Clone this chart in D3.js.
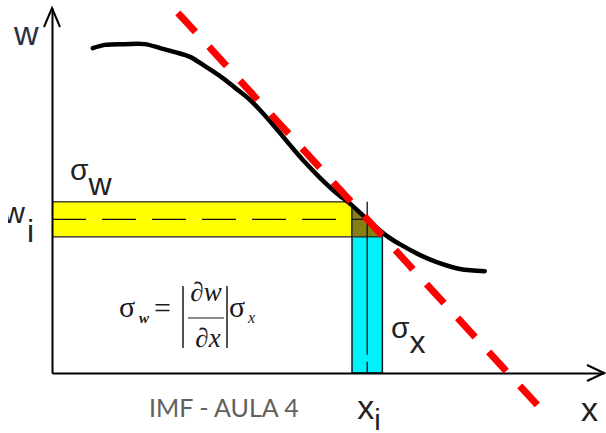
<!DOCTYPE html>
<html>
<head>
<meta charset="utf-8">
<script src="https://cdn.jsdelivr.net/npm/d3@7"></script>
<style>
  html, body { margin: 0; padding: 0; background: #fff; }
  svg { display: block; }
</style>
</head>
<body>
<svg id="chart" width="606" height="433"></svg>
<script>
// Measured response curve w(x)
const curveX = [0.74, 0.96, 1.32, 1.68, 1.96, 2.23, 2.50, 2.77, 3.04, 3.32, 3.59, 3.80, 4.04, 4.31, 4.58, 4.86, 5.13, 5.43, 5.71, 6.07, 6.30, 6.67, 6.97, 7.39, 7.84];
const curveW = [8.90, 8.99, 9.01, 9.01, 8.90, 8.79, 8.66, 8.41, 8.14, 7.81, 7.48, 7.15, 6.74, 6.25, 5.78, 5.34, 4.96, 4.60, 4.21, 3.75, 3.53, 3.23, 3.04, 2.85, 2.79];

// Working point, its uncertainties and the local slope
const xi = 5.71;
const wi = 4.21;
const sigmaX = 0.275;
const sigmaW = 0.48;
const slope = -1.65;
const tangentRange = [2.28, 8.86];

// Axis extents
const xDomain = [0, 10];
const wDomain = [0, 10];

const svg = d3.select("#chart");
const x = d3.scaleLinear().domain(xDomain).range([52, 604]);
const y = d3.scaleLinear().domain(wDomain).range([373, 8]);

const pts = curveX.map((v, i) => ({ x: v, w: curveW[i] }));

const defs = svg.append("defs");
// Clip: everything below the curve (plus the strip left of its start)
const clip = defs.append("clipPath").attr("id", "under");
clip.append("path")
  .attr("d", d3.area().x(d => x(d.x)).y0(y(0)).y1(d => y(d.w)).curve(d3.curveCatmullRom)(pts));
clip.append("rect")
  .attr("x", x(0)).attr("y", 0)
  .attr("width", x(curveX[0]) - x(0) + 1).attr("height", y(0));
// the w_i label runs off the left border
defs.append("clipPath").attr("id", "leftEdge")
  .append("rect").attr("x", 8).attr("y", 0).attr("width", 100).attr("height", 433);

const bands = svg.append("g").attr("clip-path", "url(#under)");
// sigma_w band (yellow)
bands.append("rect")
  .attr("x", x(0)).attr("y", y(wi + sigmaW))
  .attr("width", x(xi + sigmaX) - x(0))
  .attr("height", y(wi - sigmaW) - y(wi + sigmaW))
  .attr("fill", "#ffff00").attr("stroke", "#2a2a2a").attr("stroke-width", 1.3);
// sigma_x band (cyan)
bands.append("rect")
  .attr("x", x(xi - sigmaX)).attr("y", y(wi + sigmaW))
  .attr("width", x(xi + sigmaX) - x(xi - sigmaX))
  .attr("height", y(0) - y(wi + sigmaW))
  .attr("fill", "#00f2fa").attr("stroke", "#1a1a1a").attr("stroke-width", 1.5);
// overlap of both bands
bands.append("rect")
  .attr("x", x(xi - sigmaX)).attr("y", y(wi + sigmaW))
  .attr("width", x(xi + sigmaX) - x(xi - sigmaX))
  .attr("height", y(wi - sigmaW) - y(wi + sigmaW))
  .attr("fill", "#857f16").attr("stroke", "#2a2a2a").attr("stroke-width", 1.3);

// centre lines of the bands
bands.append("line")
  .attr("x1", x(0)).attr("x2", x(xi))
  .attr("y1", y(wi)).attr("y2", y(wi))
  .attr("stroke", "#111").attr("stroke-width", 1.3)
  .attr("stroke-dasharray", "34,16");
svg.append("line")
  .attr("x1", x(xi)).attr("x2", x(xi))
  .attr("y1", y(wi + sigmaW)).attr("y2", y(0))
  .attr("stroke", "#111").attr("stroke-width", 1.3)
  .attr("stroke-dasharray", "153,7");

// axes (no ticks) with open arrow heads
svg.append("g").attr("transform", `translate(0,${y(0)})`)
  .call(d3.axisBottom(x).tickValues([]).tickSizeOuter(0))
  .select(".domain").attr("stroke", "#000").attr("stroke-width", 2);
svg.append("g").attr("transform", `translate(${x(0)},0)`)
  .call(d3.axisLeft(y).tickValues([]).tickSizeOuter(0))
  .select(".domain").attr("stroke", "#000").attr("stroke-width", 2);

const arrow = d3.line();
svg.append("path")
  .attr("d", arrow([[x(0) - 8, y(wDomain[1]) + 19], [x(0), y(wDomain[1])], [x(0) + 8, y(wDomain[1]) + 19]]))
  .attr("fill", "none").attr("stroke", "#000").attr("stroke-width", 2);
svg.append("path")
  .attr("d", arrow([[x(xDomain[1]) - 17, y(0) - 8], [x(xDomain[1]), y(0)], [x(xDomain[1]) - 17, y(0) + 8]]))
  .attr("fill", "none").attr("stroke", "#000").attr("stroke-width", 2);

// the curve
svg.append("path")
  .attr("d", d3.line().x(d => x(d.x)).y(d => y(d.w)).curve(d3.curveCatmullRom)(pts))
  .attr("fill", "none").attr("stroke", "#000").attr("stroke-width", 4.5)
  .attr("stroke-linejoin", "round").attr("stroke-linecap", "round");

// tangent at the working point
const tangent = tangentRange.map(v => [x(v), y(wi + slope * (v - xi))]);
svg.append("path")
  .attr("d", arrow(tangent))
  .attr("fill", "none").attr("stroke", "#ff0000").attr("stroke-width", 7)
  .attr("stroke-dasharray", "26,20");

// labels
const sans = "'Liberation Sans', Arial, sans-serif";
const ink = "#2e2f45";

svg.append("text").attr("x", 14).attr("y", 45)
  .attr("font-family", sans).attr("font-size", 34).attr("fill", ink).text("w");

svg.append("text").attr("x", 25).attr("y", y(wi) + 4)
  .attr("clip-path", "url(#leftEdge)")
  .attr("font-family", sans).attr("font-size", 30).attr("fill", "#222")
  .attr("text-anchor", "end").text("w");
svg.append("text").attr("x", 27).attr("y", y(wi) + 23)
  .attr("font-family", sans).attr("font-size", 32).attr("fill", "#222").text("i");

const sw = svg.append("text").attr("x", 70).attr("y", 180)
  .attr("font-family", sans).attr("fill", "#222");
sw.append("tspan").attr("font-size", 30).text("σ");
sw.append("tspan").attr("font-size", 32).attr("dy", 15).text("w");

const sx = svg.append("text").attr("x", 391).attr("y", 338)
  .attr("font-family", sans).attr("fill", "#222");
sx.append("tspan").attr("font-size", 30).text("σ");
sx.append("tspan").attr("font-size", 32).attr("dy", 15).text("x");

const xiLabel = svg.append("text").attr("x", x(xi) - 10).attr("y", 419)
  .attr("font-family", sans).attr("fill", "#222");
xiLabel.append("tspan").attr("font-size", 34).text("x");
xiLabel.append("tspan").attr("font-size", 29).attr("dy", 11).text("i");

svg.append("text").attr("x", 581).attr("y", 421)
  .attr("font-family", sans).attr("font-size", 34).attr("fill", "#222").text("x");

svg.append("text").attr("x", 149).attr("y", 417)
  .attr("font-family", "Lato, 'Open Sans', sans-serif").attr("font-size", 25)
  .attr("fill", "#606060").text("IMF - AULA 4");

// propagation formula
const serif = "'Liberation Serif', 'Times New Roman', serif";
const f = svg.append("g").attr("font-family", serif).attr("fill", "#1a1a1a");
f.append("text").attr("x", 119).attr("y", 317).attr("font-size", 30).text("σ");
f.append("text").attr("x", 139).attr("y", 323).attr("font-size", 15)
  .attr("font-style", "italic").attr("font-weight", "bold").text("w");
f.append("text").attr("x", 154).attr("y", 318).attr("font-size", 30).text("=");
f.append("line").attr("x1", 183).attr("x2", 183).attr("y1", 286).attr("y2", 348)
  .attr("stroke", "#1a1a1a").attr("stroke-width", 1.5);
f.append("line").attr("x1", 227).attr("x2", 227).attr("y1", 286).attr("y2", 348)
  .attr("stroke", "#1a1a1a").attr("stroke-width", 1.5);
f.append("text").attr("x", 206).attr("y", 301).attr("font-size", 27)
  .attr("text-anchor", "middle").attr("font-style", "italic").text("∂w");
f.append("line").attr("x1", 188).attr("x2", 224).attr("y1", 318).attr("y2", 318)
  .attr("stroke", "#1a1a1a").attr("stroke-width", 1.2);
f.append("text").attr("x", 208).attr("y", 347).attr("font-size", 27)
  .attr("text-anchor", "middle").attr("font-style", "italic").text("∂x");
f.append("text").attr("x", 229).attr("y", 317).attr("font-size", 30).text("σ");
f.append("text").attr("x", 248).attr("y", 323).attr("font-size", 16)
  .attr("font-style", "italic").text("x");
</script>
</body>
</html>
